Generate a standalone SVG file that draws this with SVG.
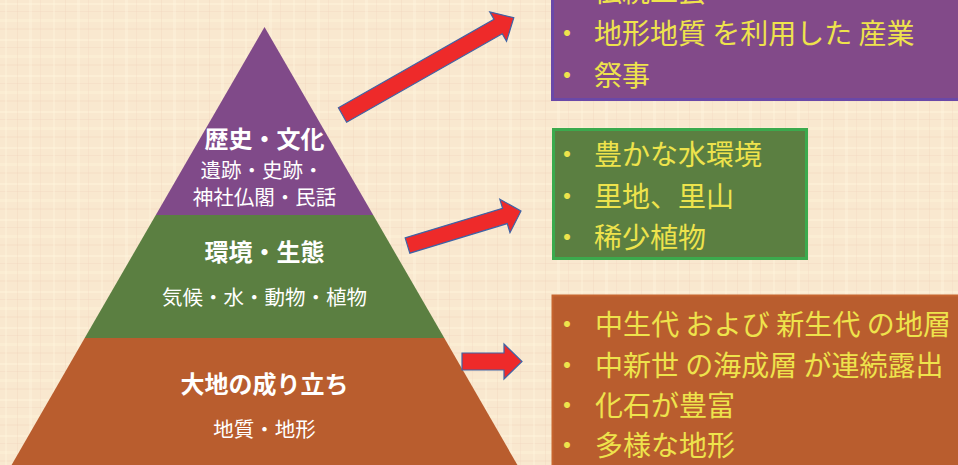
<svg xmlns="http://www.w3.org/2000/svg" width="958" height="465" viewBox="0 0 958 465">
<defs>
<pattern id="linen" x="0" y="0" width="48" height="36" patternUnits="userSpaceOnUse">
<rect width="48" height="36" fill="#F9E8CF"/>
<rect x="0" y="3" width="48" height="2" fill="#FFF6DC" opacity="0.45"/>
<rect x="0" y="11" width="48" height="1" fill="#F1D3BC" opacity="0.35"/>
<rect x="0" y="19" width="48" height="3" fill="#FFF4DA" opacity="0.4"/>
<rect x="0" y="28" width="48" height="2" fill="#F3D8C2" opacity="0.3"/>
<rect x="5" y="0" width="2" height="36" fill="#FFF5DB" opacity="0.4"/>
<rect x="17" y="0" width="1" height="36" fill="#F0D2BB" opacity="0.3"/>
<rect x="29" y="0" width="3" height="36" fill="#FFF7DE" opacity="0.35"/>
<rect x="40" y="0" width="1" height="36" fill="#F2D6C0" opacity="0.3"/>
</pattern>
<style>
.ttl{font-family:"Noto Sans CJK JP","Noto Sans",sans-serif;font-weight:bold;font-size:24px;fill:#FFFFFF;text-anchor:middle}
.sub{font-family:"Noto Sans CJK JP","Noto Sans",sans-serif;font-size:20.5px;fill:#FFFFFF;text-anchor:middle}
.item{font-family:"Noto Sans CJK JP","Noto Sans",sans-serif;font-size:28px;fill:#EEE34C}
.bul{font-family:"Noto Sans CJK JP","Noto Sans",sans-serif;font-size:28px;fill:#EEE34C;text-anchor:middle}
.arrow{fill:#EE2A2A;stroke:#3F63A6;stroke-width:1.2;stroke-linejoin:miter}
</style>
</defs>
<rect width="958" height="465" fill="url(#linen)"/>

<g id="layer-history">
<polygon points="264.5,27 373.2,215 155.8,215" fill="#804A89"/>
<text class="ttl" x="264.5" y="148">歴史・文化</text>
<text class="sub" x="262" y="178">遺跡・史跡・</text>
<text class="sub" x="264.5" y="205">神社仏閣・民話</text>
</g>

<g id="layer-environment">
<polygon points="155.8,215 373.2,215 444.3,338 84.7,338" fill="#5B7F41"/>
<text class="ttl" x="264.5" y="261">環境・生態</text>
<text class="sub" x="264.5" y="305">気候・水・動物・植物</text>
</g>

<g id="layer-earth">
<polygon points="84.7,338 444.3,338 518,466 11,466" fill="#B95D2E"/>
<text class="ttl" x="264.5" y="393">大地の成り立ち</text>
<text class="sub" x="264.5" y="437">地質・地形</text>
</g>

<g id="box-history">
<rect x="552.5" y="-10" width="420" height="109.5" fill="#824A89" stroke="#6A48A8" stroke-width="3"/>
<text class="bul" x="567" y="2">・</text><text class="item" x="594" y="2">伝統工芸</text>
<text class="bul" x="567" y="44">・</text><text class="item" x="594" y="44">地形地質 を利用した 産業</text>
<text class="bul" x="567" y="86">・</text><text class="item" x="594" y="86">祭事</text>
</g>

<g id="box-environment">
<rect x="553.5" y="129.5" width="253" height="129" fill="#5B7F41" stroke="#3BAA4D" stroke-width="3"/>
<text class="bul" x="567" y="165">・</text><text class="item" x="594" y="165">豊かな水環境</text>
<text class="bul" x="567" y="206.5">・</text><text class="item" x="594" y="206.5">里地、里山</text>
<text class="bul" x="567" y="248">・</text><text class="item" x="594" y="248">稀少植物</text>
</g>

<g id="box-earth">
<rect x="552.5" y="295.5" width="420" height="180" fill="#B95D2E" stroke="#C6652F" stroke-width="2"/>
<text class="bul" x="567" y="335">・</text><text class="item" x="595" y="335" textLength="356">中生代 および 新生代 の地層</text>
<text class="bul" x="567" y="376">・</text><text class="item" x="595" y="376">中新世 の海成層 が連続露出</text>
<text class="bul" x="567" y="416">・</text><text class="item" x="595" y="416">化石が豊富</text>
<text class="bul" x="567" y="456">・</text><text class="item" x="595" y="456">多様な地形</text>
</g>

<g id="connectors">
<polygon class="arrow" transform="translate(342.5,115) rotate(-29.6)" points="0,-8.3 179,-8.3 179,-17 197,0 179,17 179,8.3 0,8.3"/>
<polygon class="arrow" transform="translate(407.5,245.5) rotate(-16.9)" points="0,-8 101.8,-8 101.8,-17.5 118.6,0 101.8,17.5 101.8,8 0,8"/>
<polygon class="arrow" points="462,353 504,353 504,344 522,361.5 504,379 504,370 462,370"/>
</g>
</svg>
